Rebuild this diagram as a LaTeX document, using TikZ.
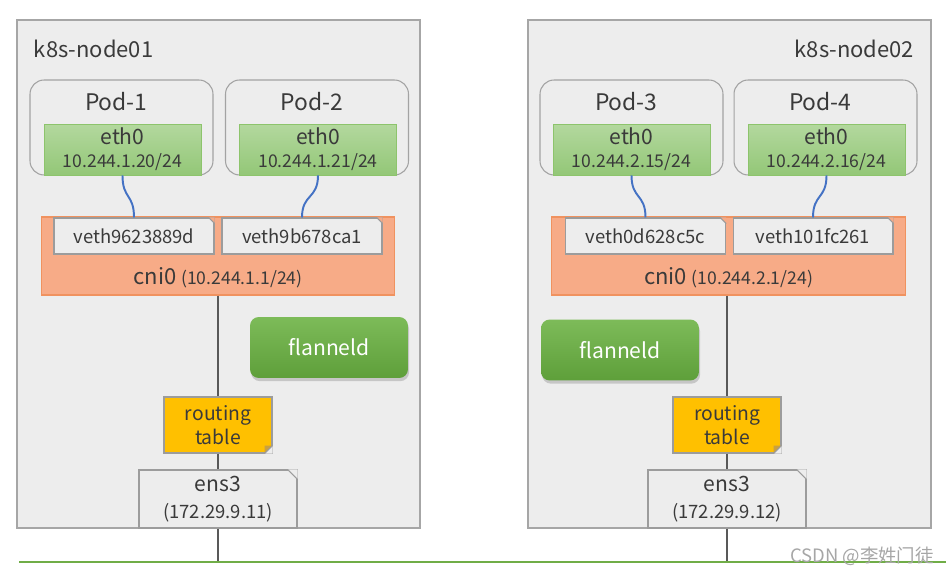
\documentclass[tikz,border=0pt]{standalone}
\usepackage{fontspec}
\setmainfont{Noto Sans CJK SC}
\usetikzlibrary{shadows,calc}
\definecolor{boxgray}{HTML}{EDEDED}
\definecolor{hostline}{HTML}{A6A6A6}
\definecolor{podline}{HTML}{A3A3A3}
\definecolor{textgray}{HTML}{3A3A3A}
\definecolor{ethtop}{HTML}{B3D89E}
\definecolor{ethbot}{HTML}{93C777}
\definecolor{ethline}{HTML}{8DC46C}
\definecolor{cniorange}{HTML}{F7AB87}
\definecolor{cniline}{HTML}{F0925F}
\definecolor{vethline}{HTML}{9C9C9C}
\definecolor{rtyellow}{HTML}{FFC000}
\definecolor{rtfold}{HTML}{C9A040}
\definecolor{fltop}{HTML}{7DBB59}
\definecolor{flbot}{HTML}{5E9F3A}
\definecolor{wireblue}{HTML}{4472C4}
\definecolor{trunkgray}{HTML}{595959}
\definecolor{langreen}{HTML}{70AD47}
\begin{document}
\begin{tikzpicture}[x=0.02cm,y=-0.02cm,
		every node/.style={text=textgray},
		host/.style={draw=hostline,fill=boxgray,line width=0.8pt,minimum width=8.06cm,minimum height=10.16cm},
		pod/.style={draw=podline,fill=boxgray,rounded corners=8pt,line width=0.6pt,minimum width=3.66cm,minimum height=1.9cm},
		eth/.style={draw=ethline,top color=ethtop,bottom color=ethbot,minimum width=3.14cm,minimum height=1.02cm,align=center,inner sep=1pt,font=\fontsize{12}{13}\selectfont},
		bridge/.style={draw=cniline,fill=cniorange,line width=0.6pt,minimum width=7.08cm,minimum height=1.56cm},
		note/.style={draw=vethline,line width=0.6pt},
		veth/.style={note,fill=boxgray,minimum width=3.2cm,minimum height=0.72cm,font=\fontsize{10.5}{12}\selectfont},
		flannel/.style={rounded corners=5pt,top color=fltop,bottom color=flbot,text=white,minimum width=3.16cm,minimum height=1.22cm,font=\fontsize{12}{14}\selectfont,drop shadow={opacity=0.35,shadow xshift=0.6pt,shadow yshift=-1.8pt}},
		routing/.style={note,fill=rtyellow,align=center,minimum width=2.16cm,minimum height=1.12cm,font=\fontsize{11}{14}\selectfont},
		ens/.style={note,fill=boxgray,align=center,minimum width=3.16cm,minimum height=1.16cm,font=\fontsize{12}{15}\selectfont},
		cut/.style={vethline,line width=0.6pt,line cap=round},
		wire/.style={wireblue,line width=1.1pt},
		trunk/.style={trunkgray,line width=0.7pt},
		lan/.style={langreen,line width=1.4pt}]
	\useasboundingbox (0,0) rectangle (946,577);
	% hosts
	\node (hostA) at (218.5,274)[host,label={[anchor=north west,xshift=6.5pt,yshift=-8pt,font=\fontsize{12.5}{15}\selectfont]north west:k8s-node01}]{};
	\node (hostB) at (729.5,274)[host,label={[anchor=north east,xshift=-6.5pt,yshift=-8pt,font=\fontsize{12.5}{15}\selectfont]north east:k8s-node02}]{};
	% pods
	\foreach \n/\x/\t in {p1/121.5/Pod-1,p2/317/Pod-2,p3/631.5/Pod-3,p4/825.5/Pod-4}
		\node (\n) at (\x,127.5)[pod,label={[anchor=north,xshift=-3pt,yshift=-4pt,font=\fontsize{13}{15}\selectfont]north:\t}]{};
	\node (e1) at (122.5,149.5)[eth]{eth0\\{\fontsize{10}{12}\selectfont 10.244.1.20/24}};
	\node (e2) at (318,149.5)[eth]{eth0\\{\fontsize{10}{12}\selectfont 10.244.1.21/24}};
	\node (e3) at (631.5,149.5)[eth]{eth0\\{\fontsize{10}{12}\selectfont 10.244.2.15/24}};
	\node (e4) at (826.5,149.5)[eth]{eth0\\{\fontsize{10}{12}\selectfont 10.244.2.16/24}};
	% bridges
	\node (c1) at (218,256)[bridge,label={[anchor=south,yshift=1pt,font=\fontsize{12.5}{15}\selectfont]south:cni0 {\fontsize{10}{12}\selectfont(10.244.1.1/24)}}]{};
	\node (c2) at (728.5,256)[bridge,label={[anchor=south,yshift=1pt,font=\fontsize{12.5}{15}\selectfont]south:cni0 {\fontsize{10}{12}\selectfont(10.244.2.1/24)}}]{};
	\node (v1) at (134,236)[veth]{veth9623889d};
	\node (v2) at (302,236)[veth]{veth9b678ca1};
	\node (v3) at (645.5,236)[veth]{veth0d628c5c};
	\node (v4) at (813,236)[veth]{veth101fc261};
	% flanneld
	\node (fl1) at (329,347.5)[flannel]{flanneld};
	\node (fl2) at (620,350)[flannel]{flanneld};
	% routing tables and ens3
	\node (r1) at (218,425)[routing]{routing\\table};
	\node (r2) at (727,425)[routing]{routing\\table};
	\node (ensA) at (218,499)[ens]{ens3\\{\fontsize{10.5}{12}\selectfont(172.29.9.11)}};
	\node (ensB) at (727,499)[ens]{ens3\\{\fontsize{10.5}{12}\selectfont(172.29.9.12)}};
	% cut corners
	\foreach \n/\s/\bg in {v1/6/cniorange,v2/6/cniorange,v3/6/cniorange,v4/6/cniorange,ensA/10/boxgray,ensB/10/boxgray}{
		\fill[\bg] ($(\n.north east)+(-\s,0)$) -- (\n.north east) -- ($(\n.north east)+(0,\s)$) -- cycle;
		\draw[cut] ($(\n.north east)+(-\s,0)$) -- ($(\n.north east)+(0,\s)$);
	}
	\foreach \n in {r1,r2}{
		\fill[boxgray] ($(\n.south east)+(-8,0)$) -- (\n.south east) -- ($(\n.south east)+(0,-8)$) -- cycle;
		\fill[rtfold] ($(\n.south east)+(-8,0)$) -- ($(\n.south east)+(0,-8)$) -- ($(\n.south east)+(-8,-8)$) -- cycle;
		\draw[cut] ($(\n.south east)+(-8,0)$) -- ($(\n.south east)+(0,-8)$);
	}
	% wires
	\foreach \a/\b in {e1/v1,e2/v2,e3/v3,e4/v4}
		\draw[wire] (\a.south) .. controls +(0,24) and +(0,-24) .. (\b.north);
	% network
	\coordinate (lanL) at (19,562);
	\coordinate (lanR) at (946,562);
	\draw[trunk] (c1.south) -- (r1.north);
	\draw[trunk] (r1.south) -- (ensA.north);
	\draw[trunk] (ensA.south) -- (ensA.south |- lanL);
	\draw[trunk] (c2.south -| r2.north) -- (r2.north);
	\draw[trunk] (r2.south) -- (ensB.north);
	\draw[trunk] (ensB.south) -- (ensB.south |- lanL);
	\draw[lan] (lanL) -- (lanR);
	\node (mark) at (862,556)[text=gray!70,font=\fontsize{10.5}{12}\selectfont]{CSDN @李姓门徒};
\end{tikzpicture}
\end{document}
